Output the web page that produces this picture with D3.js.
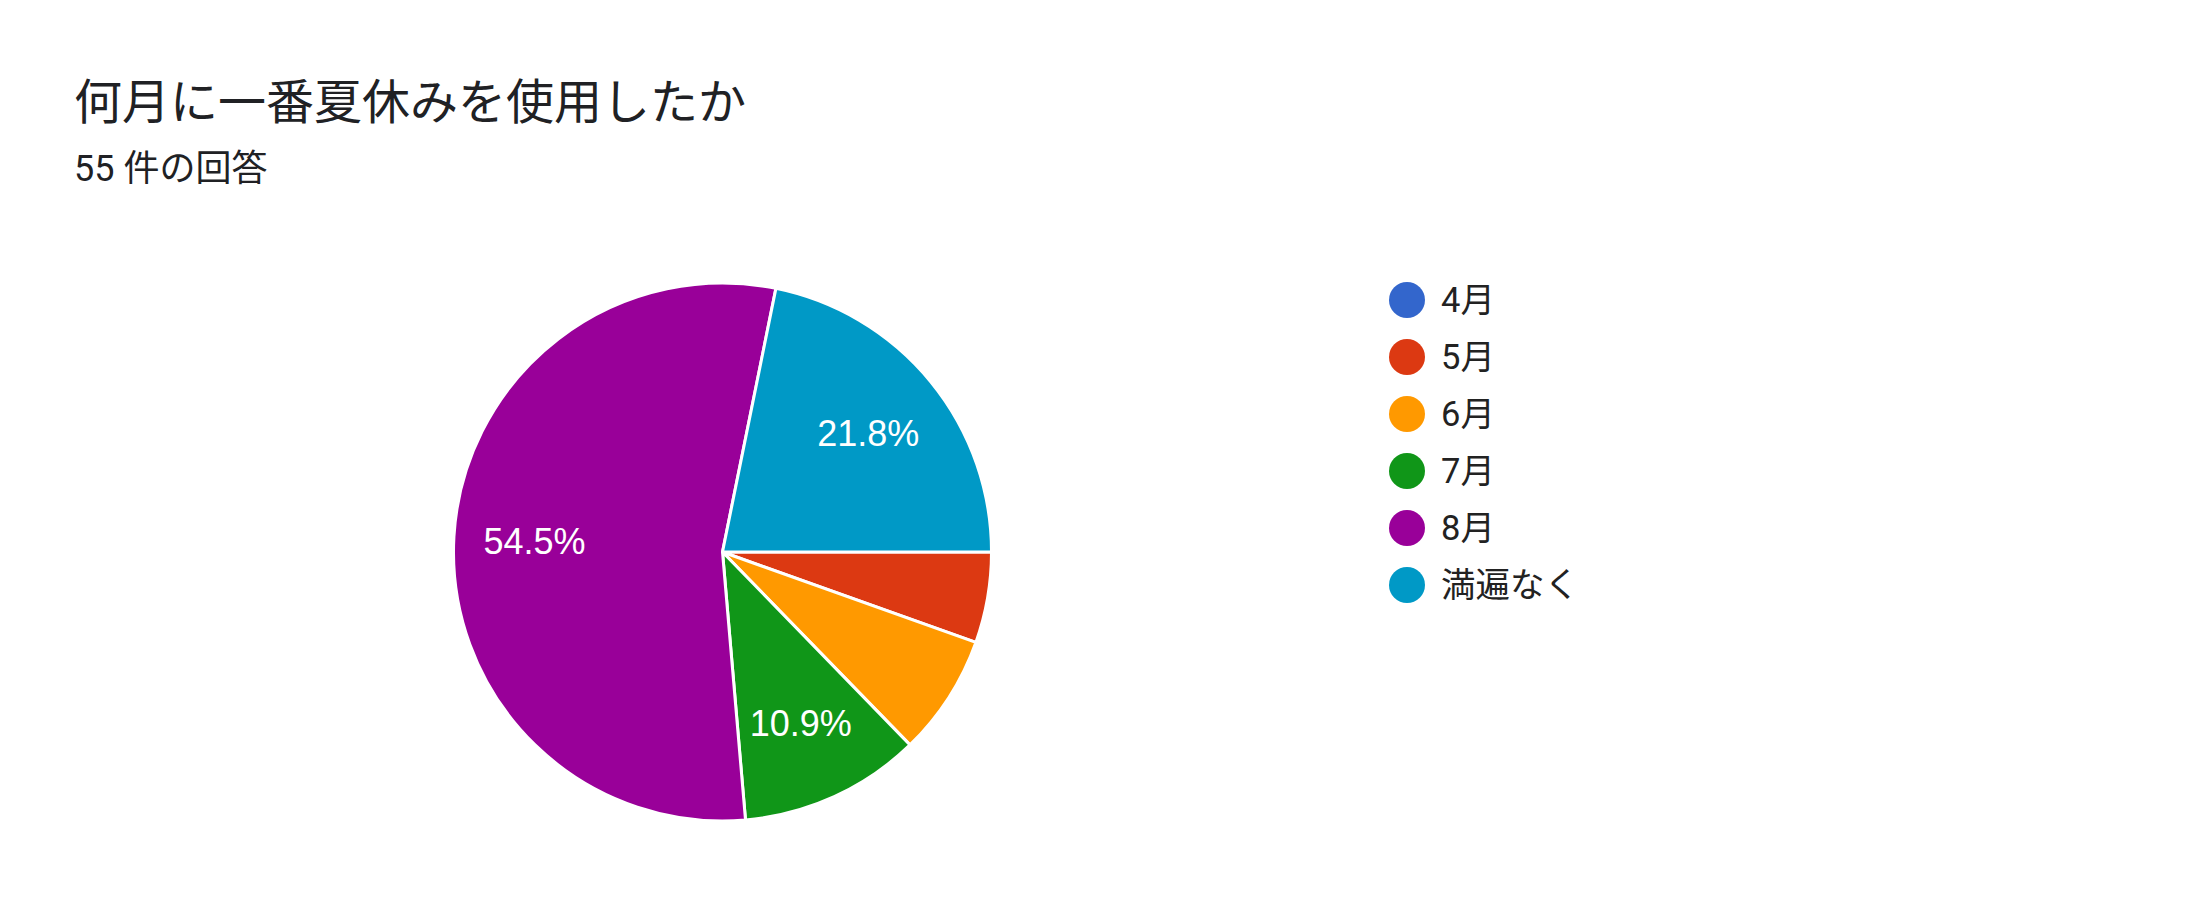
<!DOCTYPE html>
<html>
<head>
<meta charset="utf-8">
<script src="https://cdn.jsdelivr.net/npm/d3@7"></script>
<style>
  html, body { margin: 0; padding: 0; background: #fff; }
  svg { display: block; }
  .title { font-family: Roboto, "Noto Sans CJK JP", sans-serif; fill: #202124; }
  .legend text { font-family: Roboto, "Noto Sans CJK JP", sans-serif; fill: #222; }
  .slice-label { font-family: "Liberation Sans", Arial, sans-serif; fill: #fff; }
</style>
</head>
<body>
<svg id="chart" width="2196" height="924"></svg>
<script>
// 데이터
const titleText = '何月に一番夏休みを使用したか';
const subtitleText = '55 件の回答';
const categories = ['4月', '5月', '6月', '7月', '8月', '満遍なく'];
const counts = [0, 3, 4, 6, 30, 12];
const colors = ['#3366cc', '#dc3912', '#ff9900', '#109618', '#990099', '#0099c6'];

const svg = d3.select('#chart');

// 제목
svg.append('text')
  .attr('class', 'title')
  .attr('x', 74)
  .attr('y', 119)
  .style('font-size', '48px')
  .text(titleText);

svg.append('text')
  .attr('class', 'title')
  .attr('x', 74)
  .attr('y', 181)
  .style('font-size', '36px')
  .text(subtitleText);

// 파이
const CX = 722.5;
const CY = 552;
const R = 269;

const total = d3.sum(counts);
const color = d3.scaleOrdinal().domain(categories).range(colors);

const data = categories.map((c, i) => ({ name: c, value: counts[i] }));

const pie = d3.pie()
  .sort(null)
  .value((d) => d.value)
  .startAngle(Math.PI / 2)
  .endAngle(Math.PI / 2 + Math.PI * 2);

const arc = d3.arc().innerRadius(0).outerRadius(R);
const labelArc = d3.arc().innerRadius(R * 0.7).outerRadius(R * 0.7);

const arcs = pie(data).filter((d) => d.data.value > 0);

const g = svg.append('g').attr('transform', `translate(${CX},${CY})`);

g.selectAll('path')
  .data(arcs)
  .join('path')
  .attr('d', arc)
  .attr('fill', (d) => color(d.data.name))
  .attr('stroke', '#fff')
  .attr('stroke-width', 3)
  .attr('stroke-linejoin', 'round');

// 비율 라벨 (작은 조각은 생략)
const fmt = d3.format('.1%');
g.selectAll('text.slice-label')
  .data(arcs.filter((d) => d.data.value / total >= 0.1))
  .join('text')
  .attr('class', 'slice-label')
  .attr('transform', (d) => {
    const [x, y] = labelArc.centroid(d);
    return `translate(${x},${y})`;
  })
  .attr('text-anchor', 'middle')
  .attr('dy', '0.36em')
  .style('font-size', '36px')
  .text((d) => fmt(d.data.value / total));

// 범례
const legendY = d3.scalePoint()
  .domain(categories)
  .range([300, 585]);

const legend = svg.append('g').attr('class', 'legend');

const item = legend.selectAll('g')
  .data(categories)
  .join('g')
  .attr('transform', (d) => `translate(1407,${legendY(d)})`);

item.append('circle')
  .attr('r', 18)
  .attr('fill', (d) => color(d));

item.append('text')
  .attr('x', 34)
  .attr('y', 12)
  .style('font-size', '34.5px')
  .text((d) => d);
</script>
</body>
</html>
